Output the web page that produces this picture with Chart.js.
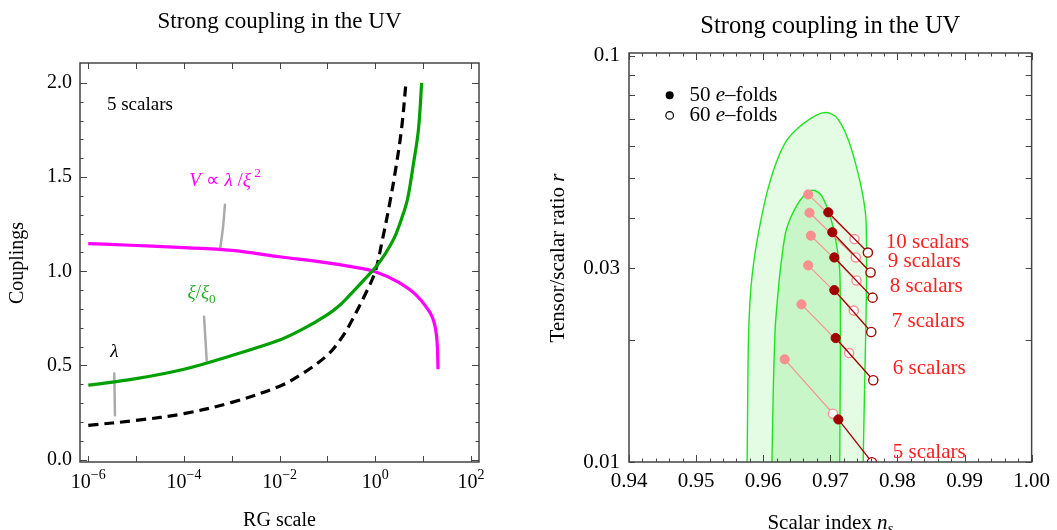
<!DOCTYPE html>
<html>
<head>
<meta charset="utf-8">
<script src="https://cdn.jsdelivr.net/npm/chart.js@4.4.0/dist/chart.umd.min.js"></script>
<style>
  html, body { margin: 0; padding: 0; background: #fff; }
  #wrap { position: relative; width: 1057px; height: 530px; }
  #left { position: absolute; left: 0; top: 0; }
  #right { position: absolute; left: 528px; top: 0; }
</style>
</head>
<body>
<div id="wrap">
  <canvas id="left" width="528" height="530"></canvas>
  <canvas id="right" width="529" height="530"></canvas>
</div>
<script>
// ---- left panel: running couplings, x given as log10 of the RG scale ----
var vLogMu = [-6, -5, -4, -3, -2, -1, -0.5, 0, 0.5, 0.85, 1.05, 1.2, 1.27, 1.3, 1.31];
var vVal = [1.147, 1.137, 1.126, 1.111, 1.077, 1.045, 1.025, 0.998, 0.94, 0.875, 0.815, 0.75, 0.675, 0.58, 0.48];
var xiLogMu = [-6, -5, -4, -3, -2, -1.5, -1, -0.75, -0.54, -0.19, 0, 0.2, 0.4, 0.55, 0.67, 0.79, 0.9, 0.969];
var xiVal = [0.395, 0.43, 0.48, 0.553, 0.635, 0.695, 0.77, 0.818, 0.872, 0.967, 1.02, 1.09, 1.18, 1.28, 1.38, 1.56, 1.75, 2.0];
var lamLogMu = [-6, -5, -4, -3, -2, -1.5, -1, -0.75, -0.54, -0.19, 0, 0.15, 0.3, 0.43, 0.55, 0.64];
var lamVal = [0.182, 0.208, 0.244, 0.304, 0.39, 0.46, 0.555, 0.63, 0.715, 0.889, 1.0, 1.17, 1.36, 1.55, 1.76, 2.0];

// grey pointer strokes from the labels to the curves
var ptrVLogMu = [-3.143, -3.185, -3.247];
var ptrVVal = [1.353, 1.231, 1.113];
var ptrXiLogMu = [-3.58, -3.525];
var ptrXiVal = [0.759, 0.528];
var ptrLamLogMu = [-5.457, -5.442];
var ptrLamVal = [0.457, 0.235];

var leftDecades = [-6, -5, -4, -3, -2, -1, 0, 1, 2];
var leftLabelDecades = [-6, -4, -2, 0, 2];
var leftYTicks = [0, 0.5, 1, 1.5, 2];

// ---- right panel: ns / r predictions for 5..10 scalars ----
var nScalars = [5, 6, 7, 8, 9, 10];
var pinkN50 = [0.9632, 0.9657, 0.9667, 0.9671, 0.9669, 0.9667];
var pinkR50 = [0.0179, 0.02445, 0.0305, 0.0361, 0.0411, 0.0456];
var pinkN60 = [0.9704, 0.9728, 0.9735, 0.9739, 0.9738, 0.9736];
var pinkR60 = [0.01315, 0.01855, 0.0236, 0.0280, 0.0319, 0.0354];
var darkN50 = [0.9712, 0.9708, 0.9706, 0.9706, 0.9703, 0.9697];
var darkR50 = [0.01273, 0.0202, 0.0265, 0.0319, 0.0368, 0.0412];
var darkN60 = [0.9762, 0.9764, 0.9761, 0.9763, 0.9760, 0.9756];
var darkR60 = [0.00999, 0.0159, 0.0209, 0.0254, 0.0293, 0.0328];

// Planck contours (2 sigma outer, 1 sigma inner)
var outerN = [0.9575, 0.9576, 0.9577, 0.9578, 0.9581, 0.9587, 0.9596, 0.9607, 0.9620, 0.9635, 0.9652, 0.9670, 0.9688, 0.9700, 0.9712, 0.9727, 0.9739, 0.9748, 0.9753, 0.9754, 0.9754, 0.9753, 0.9751, 0.9749, 0.9748];
var outerR = [0.008, 0.010, 0.015, 0.020, 0.026, 0.032, 0.039, 0.047, 0.055, 0.062, 0.0665, 0.0700, 0.0724, 0.0722, 0.0697, 0.0621, 0.0533, 0.0458, 0.0400, 0.0340, 0.0280, 0.0215, 0.015, 0.010, 0.008];
var innerN = [0.9612, 0.9613, 0.9615, 0.9618, 0.9622, 0.9626, 0.9633, 0.9641, 0.9650, 0.9660, 0.9669, 0.9677, 0.9687, 0.9700, 0.9709, 0.9714, 0.9715, 0.9715, 0.9714, 0.9714];
var innerR = [0.008, 0.010, 0.015, 0.0215, 0.026, 0.0302, 0.0365, 0.0400, 0.0428, 0.0452, 0.0465, 0.0466, 0.0453, 0.0402, 0.0345, 0.0297, 0.0230, 0.0178, 0.010, 0.008];

var rightXTicks = [0.94, 0.95, 0.96, 0.97, 0.98, 0.99, 1.00];
var rightYTicks = [0.01, 0.03, 0.1];

// label anchors (data coordinates)
var scalarLabelN = [0.97931, 0.97931, 0.97916, 0.97887, 0.97857, 0.97827];
var scalarLabelR = [0.01057, 0.0170, 0.0222, 0.0270, 0.0311, 0.0348];

var serif = '"Liberation Serif", "Times New Roman", serif';
Chart.defaults.font.family = serif;
Chart.defaults.color = '#000';

function pts(xs, ys, logx) {
  return xs.map(function (x, i) { return { x: logx ? Math.pow(10, x) : x, y: ys[i] }; });
}

function richText(ctx, segs, x, y, opt) {
  var size = opt.size;
  var align = opt.align || 'center';
  ctx.save();
  ctx.translate(x, y);
  if (opt.rotate) ctx.rotate(-Math.PI / 2);
  ctx.fillStyle = opt.color || '#000';
  ctx.textBaseline = 'middle';
  ctx.textAlign = 'left';
  var parts = segs.map(function (s) {
    var fs = (s.sup || s.sub) ? size * 0.7 : size;
    var font = (s.i ? 'italic ' : '') + fs + 'px ' + serif;
    ctx.font = font;
    return { t: s.t, font: font, w: ctx.measureText(s.t).width, dy: s.sup ? -size * 0.38 : (s.sub ? size * 0.3 : 0) };
  });
  var total = parts.reduce(function (a, p) { return a + p.w; }, 0);
  var cx = align === 'center' ? -total / 2 : (align === 'right' ? -total : 0);
  parts.forEach(function (p) {
    ctx.font = p.font;
    ctx.fillText(p.t, cx, p.dy);
    cx += p.w;
  });
  ctx.restore();
}

// frame with inward ticks on all four sides
function frameTicks(xTicks, yTicks) {
  return {
    id: 'frameTicks',
    afterDatasetsDraw: function (chart) {
      var ctx = chart.ctx, a = chart.chartArea, sx = chart.scales.x, sy = chart.scales.y;
      ctx.save();
      ctx.strokeStyle = '#444';
      ctx.lineWidth = 1;
      ctx.beginPath();
      xTicks.forEach(function (t) {
        var px = Math.round(sx.getPixelForValue(t.v)) + 0.5;
        ctx.moveTo(px, a.bottom); ctx.lineTo(px, a.bottom - t.len);
        ctx.moveTo(px, a.top); ctx.lineTo(px, a.top + t.len);
      });
      yTicks.forEach(function (t) {
        var py = Math.round(sy.getPixelForValue(t.v)) + 0.5;
        ctx.moveTo(a.left, py); ctx.lineTo(a.left + t.len, py);
        ctx.moveTo(a.right, py); ctx.lineTo(a.right - t.len, py);
      });
      ctx.stroke();
      ctx.lineWidth = 1.5;
      ctx.strokeRect(a.left, a.top, a.right - a.left, a.bottom - a.top);
      ctx.restore();
    }
  };
}

var hidden = { grid: { display: false, drawTicks: false }, border: { display: false } };

// ---------------- left chart ----------------
var leftXMarks = leftDecades.map(function (e) { return { v: Math.pow(10, e), len: 6 }; });
var leftYMarks = [];
for (var k = 0; k <= 20; k++) leftYMarks.push({ v: k / 10, len: k % 5 === 0 ? 7 : 3.5 });

var leftText = {
  id: 'leftText',
  afterDraw: function (chart) {
    var ctx = chart.ctx, a = chart.chartArea, sx = chart.scales.x, sy = chart.scales.y;
    var cx = (a.left + a.right) / 2;
    richText(ctx, [{ t: 'Strong coupling in the UV' }], cx, 22, { size: 23 });
    richText(ctx, [{ t: 'RG scale' }], cx, 521, { size: 20 });
    richText(ctx, [{ t: 'Couplings' }], 18, 263, { size: 20, rotate: true });
    leftLabelDecades.forEach(function (e) {
      var lab = e < 0 ? '\u2212' + (-e) : String(e);
      richText(ctx, [{ t: '10' }, { t: lab, sup: true }], sx.getPixelForValue(Math.pow(10, e)), a.bottom + 21, { size: 20 });
    });
    function at(le, v) { return [sx.getPixelForValue(Math.pow(10, le)), sy.getPixelForValue(v)]; }
    var p = at(-5.61, 1.885);
    richText(ctx, [{ t: '5 scalars' }], p[0], p[1], { size: 19, align: 'left' });
    p = at(-3.14, 1.48);
    richText(ctx, [{ t: 'V', i: true }, { t: ' \u221d ' }, { t: '\u03bb', i: true }, { t: ' /' }, { t: '\u03be', i: true }, { t: ' 2', sup: true }], p[0], p[1], { size: 19, color: '#ff00ff' });
    p = at(-3.63, 0.883);
    richText(ctx, [{ t: '\u03be', i: true }, { t: '/' }, { t: '\u03be', i: true }, { t: '0', sub: true }], p[0], p[1], { size: 19, color: '#22b022' });
    p = at(-5.457, 0.571);
    richText(ctx, [{ t: '\u03bb', i: true }], p[0], p[1], { size: 19 });
  }
};

function ptrSet(xs, ys) {
  return { data: pts(xs, ys, true), showLine: true, borderColor: '#aaaaaa', borderWidth: 2.5, pointRadius: 0, tension: 0.3, borderCapStyle: 'round' };
}

new Chart(document.getElementById('left'), {
  type: 'scatter',
  data: {
    datasets: [
      { data: pts(xiLogMu, xiVal, true), showLine: true, borderColor: '#00a000', borderWidth: 3.2, pointRadius: 0, tension: 0.35 },
      { data: pts(vLogMu, vVal, true), showLine: true, borderColor: '#ff00ff', borderWidth: 3.2, pointRadius: 0, cubicInterpolationMode: 'monotone' },
      { data: pts(lamLogMu, lamVal, true), showLine: true, borderColor: '#000', borderWidth: 3.2, borderDash: [10, 6], pointRadius: 0, tension: 0.35 },
      ptrSet(ptrVLogMu, ptrVVal),
      ptrSet(ptrXiLogMu, ptrXiVal),
      ptrSet(ptrLamLogMu, ptrLamVal)
    ]
  },
  options: {
    responsive: false,
    animation: false,
    devicePixelRatio: 1,
    layout: { padding: { top: 63, right: 49, left: 0, bottom: 0 } },
    plugins: { legend: { display: false }, tooltip: { enabled: false } },
    scales: {
      x: Object.assign({
        type: 'logarithmic',
        min: Math.pow(10, -6.173),
        max: Math.pow(10, 2.167),
        bounds: 'data',
        ticks: { display: false },
        afterBuildTicks: function (s) { s.ticks = leftDecades.map(function (e) { return { value: Math.pow(10, e) }; }); },
        afterFit: function (s) { s.height = 68; }
      }, hidden),
      y: Object.assign({
        type: 'linear',
        min: -0.0128,
        max: 2.106,
        bounds: 'data',
        ticks: { font: { size: 20 }, color: '#000', padding: 8, callback: function (v) { return v.toFixed(1); } },
        afterBuildTicks: function (s) { s.ticks = leftYTicks.map(function (v) { return { value: v }; }); },
        afterFit: function (s) { s.width = 80; }
      }, hidden)
    }
  },
  plugins: [frameTicks(leftXMarks, leftYMarks), leftText]
});

// ---------------- right chart ----------------
var rightXMarks = [];
for (var j = 0; j <= 30; j++) rightXMarks.push({ v: 0.94 + j * 0.002, len: j % 5 === 0 ? 7 : 3.5 });
var rightYMarks = [];
for (var m = 1; m <= 10; m++) rightYMarks.push({ v: m / 100, len: 6 });

var rightText = {
  id: 'rightText',
  afterDraw: function (chart) {
    var ctx = chart.ctx, a = chart.chartArea, sx = chart.scales.x, sy = chart.scales.y;
    var cx = (a.left + a.right) / 2;
    richText(ctx, [{ t: 'Strong coupling in the UV' }], cx, 27, { size: 24.5 });
    richText(ctx, [{ t: 'Scalar index ' }, { t: 'n', i: true }, { t: 's', i: true, sub: true }], cx, 523, { size: 21 });
    richText(ctx, [{ t: 'Tensor/scalar ratio ' }, { t: 'r', i: true }], 30, 258, { size: 21, rotate: true });
    // legend
    var lx = sx.getPixelForValue(0.94606), tx = sx.getPixelForValue(0.94901);
    var y1 = sy.getPixelForValue(0.080), y2 = sy.getPixelForValue(0.0714);
    ctx.save();
    ctx.fillStyle = '#000';
    ctx.beginPath(); ctx.arc(lx, y1, 4, 0, Math.PI * 2); ctx.fill();
    ctx.strokeStyle = '#000'; ctx.lineWidth = 1.2;
    ctx.beginPath(); ctx.arc(lx, y2, 3.8, 0, Math.PI * 2); ctx.stroke();
    ctx.restore();
    richText(ctx, [{ t: '50 ' }, { t: 'e', i: true }, { t: '\u2013folds' }], tx, y1, { size: 21, align: 'left' });
    richText(ctx, [{ t: '60 ' }, { t: 'e', i: true }, { t: '\u2013folds' }], tx, y2, { size: 21, align: 'left' });
    nScalars.forEach(function (n, i) {
      richText(ctx, [{ t: n + ' scalars' }], sx.getPixelForValue(scalarLabelN[i]), sy.getPixelForValue(scalarLabelR[i]), { size: 21, align: 'left', color: '#ff1f1f' });
    });
  }
};

var dark = '#a00000', pink = '#f89090';
function pairLines(n50, r50, n60, r60, color, width) {
  return nScalars.map(function (n, i) {
    return { data: [{ x: n50[i], y: r50[i] }, { x: n60[i], y: r60[i] }], showLine: true, borderColor: color, borderWidth: width, pointRadius: 0 };
  });
}

var rightSets = [
  { data: pts(darkN60, darkR60), pointRadius: 4.6, pointBackgroundColor: '#fff', pointBorderColor: dark, pointBorderWidth: 1.4 },
  { data: pts(darkN50, darkR50), pointRadius: 4.6, pointBackgroundColor: dark, pointBorderColor: dark, pointBorderWidth: 1 }
].concat(pairLines(darkN50, darkR50, darkN60, darkR60, dark, 1.3)).concat([
  { data: pts(pinkN60, pinkR60), pointRadius: 4.6, pointBackgroundColor: '#fff', pointBorderColor: pink, pointBorderWidth: 1.4 },
  { data: pts(pinkN50, pinkR50), pointRadius: 4.6, pointBackgroundColor: pink, pointBorderColor: pink, pointBorderWidth: 1 }
]).concat(pairLines(pinkN50, pinkR50, pinkN60, pinkR60, pink, 1.2)).concat([
  { data: pts(innerN, innerR), showLine: true, fill: 'shape', backgroundColor: '#c9f6c9', borderColor: '#1fe31f', borderWidth: 1.4, pointRadius: 0, tension: 0.25, clip: 0 },
  { data: pts(outerN, outerR), showLine: true, fill: 'shape', backgroundColor: '#e4fbe4', borderColor: '#1fe31f', borderWidth: 1.4, pointRadius: 0, tension: 0.25, clip: 0 }
]);

new Chart(document.getElementById('right'), {
  type: 'scatter',
  data: { datasets: rightSets },
  options: {
    responsive: false,
    animation: false,
    devicePixelRatio: 1,
    layout: { padding: { top: 53, right: 22, left: 0, bottom: 0 } },
    plugins: { legend: { display: false }, tooltip: { enabled: false } },
    scales: {
      x: Object.assign({
        type: 'linear',
        min: 0.94,
        max: 1.0,
        bounds: 'data',
        ticks: { font: { size: 21 }, color: '#000', padding: 7, maxRotation: 0, callback: function (v) { return v.toFixed(2); } },
        afterBuildTicks: function (s) { s.ticks = rightXTicks.map(function (v) { return { value: v }; }); },
        afterFit: function (s) { s.height = 68; }
      }, hidden),
      y: Object.assign({
        type: 'logarithmic',
        min: 0.01,
        max: 0.1017,
        bounds: 'data',
        ticks: { font: { size: 21 }, color: '#000', padding: 9, callback: function (v) { return v >= 0.1 ? '0.1' : v.toFixed(2); } },
        afterBuildTicks: function (s) { s.ticks = rightYTicks.map(function (v) { return { value: v }; }); },
        afterFit: function (s) { s.width = 101; }
      }, hidden)
    }
  },
  plugins: [frameTicks(rightXMarks, rightYMarks), rightText]
});
</script>
</body>
</html>
